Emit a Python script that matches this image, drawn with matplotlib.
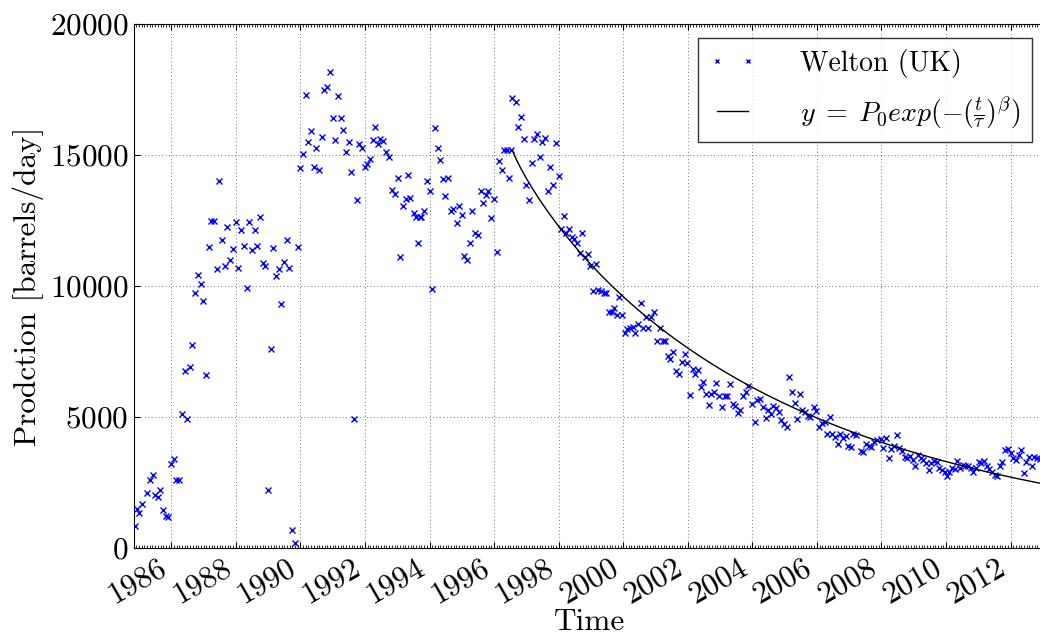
#!/usr/bin/python3

import numpy as np
import matplotlib
matplotlib.use('Agg')
import matplotlib.pyplot as plt
from matplotlib.ticker import MultipleLocator

# monthly production, barrels/day (decimal years)
t_85_89 = [1984.87, 1984.93, 1985.01, 1985.10, 1985.24, 1985.33, 1985.42, 1985.50,
           1985.58, 1985.66, 1985.75, 1985.83, 1985.91, 1985.99, 1986.08, 1986.16,
           1986.24, 1986.33, 1986.41, 1986.49, 1986.57, 1986.65, 1986.74, 1986.83,
           1986.91, 1986.99, 1987.08, 1987.16, 1987.24, 1987.33, 1987.41, 1987.49,
           1987.58, 1987.66, 1987.74, 1987.82, 1987.91, 1988.00, 1988.08, 1988.16,
           1988.25, 1988.33, 1988.41, 1988.50, 1988.58, 1988.66, 1988.75, 1988.83,
           1988.91, 1989.00, 1989.08, 1989.16, 1989.24, 1989.33, 1989.41, 1989.49,
           1989.58, 1989.66, 1989.74, 1989.82, 1989.91]
p_85_89 = [850, 1480, 1330, 1680, 2110, 2590, 2790, 2010,
           1940, 2210, 1450, 1230, 1200, 3200, 3400, 2600,
           2600, 5100, 6740, 4910, 6900, 7730, 9750, 10430,
           10090, 9430, 6600, 11470, 12470, 12490, 10630, 14010,
           11750, 10760, 12260, 11000, 11410, 12460, 10700, 12130,
           11540, 9920, 12430, 11370, 12130, 11520, 12650, 10880,
           10750, 2220, 7610, 11450, 10370, 10630, 9330, 10920,
           11740, 10700, 700, 200, 11490]

t_90_92 = [1990.00, 1990.08, 1990.16, 1990.25, 1990.33, 1990.41, 1990.49, 1990.58,
           1990.66, 1990.74, 1990.82, 1990.92, 1991.00, 1991.08, 1991.16, 1991.25,
           1991.33, 1991.41, 1991.49, 1991.58, 1991.66, 1991.74, 1991.82, 1991.91,
           1991.99, 1992.07, 1992.15, 1992.24, 1992.32, 1992.40, 1992.48, 1992.57,
           1992.65]
p_90_92 = [14500, 15030, 17300, 15500, 15920, 14540, 15250, 14430,
           15700, 17470, 17590, 18180, 16410, 15590, 17250, 16430,
           15950, 15120, 15490, 14340, 4920, 13290, 15420, 15260,
           14530, 14650, 14830, 15590, 16050, 15400, 15620, 15550,
           15110]

t_93_96 = [1992.76, 1992.85, 1992.92, 1993.01, 1993.09, 1993.18, 1993.26, 1993.34,
           1993.41, 1993.51, 1993.59, 1993.63, 1993.69, 1993.75, 1993.84, 1993.92,
           1994.00, 1994.09, 1994.16, 1994.25, 1994.33, 1994.41, 1994.49, 1994.58,
           1994.66, 1994.74, 1994.84, 1994.92, 1995.00, 1995.08, 1995.16, 1995.25,
           1995.33, 1995.41, 1995.49, 1995.58, 1995.66, 1995.74, 1995.82, 1995.91,
           1995.99, 1996.08, 1996.16, 1996.25, 1996.31, 1996.39, 1996.45, 1996.52]
p_93_96 = [14940, 13660, 13520, 14120, 11120, 13070, 13320, 14250,
           13370, 12770, 12630, 11640, 12620, 12630, 12880, 14020,
           13640, 9900, 16040, 15270, 14810, 14070, 13440, 14140,
           12860, 12940, 12390, 13050, 12720, 11150, 10980, 11640,
           12880, 12020, 11930, 13630, 13180, 13470, 13640, 12600,
           13310, 11310, 14770, 14430, 15190, 15190, 14110, 15190]

t_97_01 = [1996.57, 1996.67, 1996.75, 1996.84, 1996.92, 1997.00, 1997.08, 1997.16,
           1997.25, 1997.33, 1997.41, 1997.49, 1997.58, 1997.66, 1997.74, 1997.82,
           1997.92, 1998.00, 1998.08, 1998.16, 1998.24, 1998.32, 1998.41, 1998.49,
           1998.57, 1998.65, 1998.73, 1998.82, 1998.90, 1998.98, 1999.06, 1999.15,
           1999.23, 1999.31, 1999.39, 1999.47, 1999.56, 1999.64, 1999.72, 1999.80,
           1999.88, 1999.97, 2000.05, 2000.13, 2000.21, 2000.29, 2000.37, 2000.45,
           2000.54, 2000.62, 2000.70, 2000.78, 2000.86, 2000.95, 2001.05, 2001.13,
           2001.22, 2001.30, 2001.38, 2001.46, 2001.55, 2001.65]
p_97_01 = [17160, 17020, 16080, 16440, 15620, 13870, 13270, 14710,
           15620, 15790, 14940, 15500, 15650, 13610, 14560, 13840,
           15460, 14190, 12180, 12670, 12040, 12180, 11880, 11780,
           11630, 11270, 12010, 11120, 11220, 10780, 9820, 10830,
           9850, 9820, 9750, 9720, 9000, 9000, 9150, 8890,
           9590, 8880, 8190, 8360, 8410, 8450, 8190, 8540,
           9360, 8380, 8800, 8380, 8800, 9000, 7900, 8380,
           7890, 7900, 7330, 7200, 7490, 6760]

t_02_06 = [2001.74, 2001.83, 2001.91, 2001.99, 2002.07, 2002.15, 2002.24, 2002.32,
           2002.40, 2002.48, 2002.57, 2002.65, 2002.73, 2002.81, 2002.89, 2002.98,
           2003.06, 2003.14, 2003.22, 2003.30, 2003.39, 2003.47, 2003.55, 2003.63,
           2003.71, 2003.79, 2003.87, 2003.98, 2004.08, 2004.16, 2004.24, 2004.33,
           2004.41, 2004.49, 2004.57, 2004.65, 2004.73, 2004.82, 2004.90, 2004.98,
           2005.06, 2005.14, 2005.22, 2005.31, 2005.39, 2005.47, 2005.55, 2005.63,
           2005.72, 2005.80, 2005.90, 2005.98, 2006.08, 2006.16, 2006.24, 2006.32,
           2006.40, 2006.48, 2006.57, 2006.65, 2006.73, 2006.81, 2006.89]
p_02_06 = [6630, 7100, 7390, 7060, 5840, 6830, 6630, 6810,
           6160, 6320, 5870, 5450, 5870, 5940, 6300, 5790,
           5380, 5810, 5790, 6250, 5510, 5430, 5150, 5250,
           5790, 5940, 6200, 5510, 4800, 5640, 5690, 5380,
           4980, 5280, 5130, 5410, 5360, 5180, 4900, 4750,
           4620, 6530, 5940, 5530, 4920, 5870, 5280, 5180,
           5050, 5000, 5380, 5230, 4620, 4770, 4820, 4340,
           5000, 4340, 4240, 3980, 4340, 4210, 4290]

t_07_12 = [2006.97, 2007.05, 2007.13, 2007.20, 2007.36, 2007.44, 2007.53, 2007.60,
           2007.68, 2007.77, 2007.86, 2007.98, 2008.06, 2008.14, 2008.23, 2008.31,
           2008.39, 2008.47, 2008.56, 2008.64, 2008.72, 2008.80, 2008.89, 2008.97,
           2009.05, 2009.13, 2009.22, 2009.30, 2009.38, 2009.46, 2009.55, 2009.63,
           2009.71, 2009.79, 2009.88, 2009.96, 2010.02, 2010.10, 2010.19, 2010.27,
           2010.35, 2010.43, 2010.52, 2010.60, 2010.68, 2010.76, 2010.85, 2010.93,
           2011.01, 2011.09, 2011.18, 2011.26, 2011.34, 2011.42, 2011.51, 2011.59,
           2011.67, 2011.75, 2011.84, 2011.92, 2012.00, 2012.08, 2012.16, 2012.25,
           2012.33, 2012.41, 2012.49, 2012.58, 2012.66, 2012.74, 2012.82, 2012.90]
p_07_12 = [3900, 3850, 4360, 4300, 3700, 3660, 3960, 3910,
           3860, 4060, 4110, 4160, 3800, 4210, 3450, 3780,
           3910, 4300, 3800, 3700, 3470, 3450, 3500, 3370,
           3140, 3550, 3450, 3350, 3240, 2960, 3240, 3320,
           3270, 3070, 2960, 2890, 2740, 2910, 3070, 3020,
           3320, 3040, 3170, 3120, 3140, 3070, 2890, 3070,
           3270, 3240, 3320, 3120, 3020, 2910, 2790, 2760,
           3120, 3300, 3730, 3780, 3630, 3450, 3370, 3550,
           3730, 2860, 3300, 3470, 3120, 3470, 3450, 3400]

# fit parameters (curve starts at the 1996 peak)
t0 = 1996.57
P0 = 15190
tau = 8.3
beta = 0.88

t = np.array(t_85_89 + t_90_92 + t_93_96 + t_97_01 + t_02_06 + t_07_12)
p = np.array(p_85_89 + p_90_92 + p_93_96 + p_97_01 + p_02_06 + p_07_12)

plt.rcParams['font.family'] = ['cmr10']
plt.rcParams['mathtext.fontset'] = 'cm'
plt.rcParams['axes.formatter.use_mathtext'] = True

fig = plt.figure(figsize=(10.4, 6.36), dpi=100)
ax = fig.add_axes([0.1284, 0.1384, 0.8774, 0.8239])

ax.plot(t, p, 'bx', ms=4, mew=1.0, label='Welton (UK)')
tf = np.linspace(t0, 2013.1, 300)
ax.plot(tf, P0 * np.exp(-((tf - t0) / tau) ** beta), 'k-', lw=1,
        label=r'$y\;=\;P_0 exp(-(\frac{t}{\tau})^\beta)$')

ax.set_xlim(1984.83, 2013.1)
ax.set_ylim(0, 20000)
ax.set_yticks(range(0, 20001, 5000))
ax.set_xticks(range(1986, 2013, 2))
ax.set_xticklabels([str(y) for y in range(1986, 2013, 2)], rotation=30, ha='right')
ax.xaxis.set_minor_locator(MultipleLocator(1 / 12))
ax.tick_params(which='both', direction='in', top=True, right=True, labelsize=22.5)
ax.tick_params(which='major', length=4)
ax.tick_params(which='minor', length=2)
ax.grid(True, color='k', linestyle=(0, (1, 4)), linewidth=0.5)

ax.set_xlabel('Time', fontsize=22.5, labelpad=0)
ax.set_ylabel('Prodction [barrels/day]', fontsize=22.5)

leg = ax.legend(loc='upper right', numpoints=2, fontsize=20, fancybox=False,
                handlelength=1.7, handletextpad=1.6, markerscale=0.6,
                borderaxespad=0.5, labelspacing=0.6)
leg.get_frame().set_edgecolor('k')
leg.get_frame().set_linewidth(1)

fig.savefig('out.png', dpi=100)
